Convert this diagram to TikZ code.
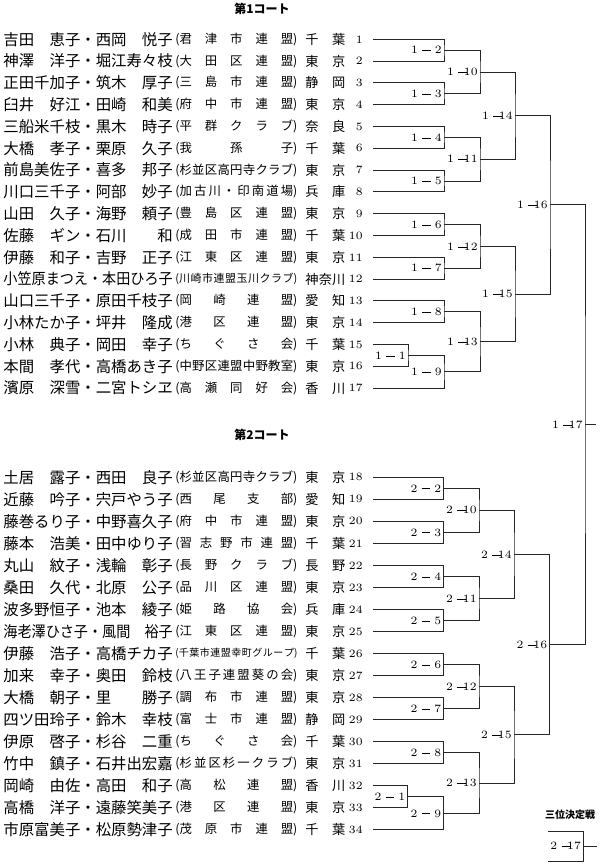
\documentclass[tikz,border=0pt]{standalone}
\usepackage{fontspec}
\usepackage{graphicx}
\usetikzlibrary{calc}
\newfontfamily\jp{Noto Sans CJK JP}
\makeatletter
\def\sprd#1{\sprd@i#1\@nil}
\def\sprd@i#1#2\@nil{#1\ifx\relax#2\relax\else\hfill\sprd@i#2\@nil\fi}
\makeatother
\newcommand\clb[2][6.2pt]{\makebox[61pt][l]{\fontsize{#1}{#1}\selectfont(\sprd{#2})}}
\newcommand\pfx[1]{\makebox[20pt][l]{\sprd{#1}}}
\newcommand\sq[1]{\scalebox{0.9167}[1]{#1}}
\newcommand\mlab[2]{#1\hspace{2.2pt}\rule[1.45pt]{4.2pt}{0.35pt}\makebox[5.4pt][r]{#2}}
\newcommand\prow[5]{%
  \node[nm] (n#1) at (3,#2) {#3};
  \node[cl] (c#1) at (175,#2) {#4};
  \node[pf] (p#1) at (305,#2) {\pfx{#5}};
  \node[no] (k#1) at (363,#2) {#1};
  \coordinate (r#1) at (373,#2);}
\newcommand\rowA[4]{\pgfmathsetmacro\yy{39.3+(#1-1)*21.8}\prow{#1}{\yy}{#2}{#3}{#4}}
\newcommand\rowB[4]{\pgfmathsetmacro\yy{477.3+(#1-18)*22.04}\prow{#1}{\yy}{#2}{#3}{#4}}
\newcommand\mt[6]{%
  \coordinate (#1h) at ($(#3)!0.5!(#4)$);
  \coordinate (#1) at (#2,0 |- #1h);
  \draw[ln] (#3) -| (#1) |- (#4);
  \node[lab] (l#1) at (#1) {\mlab{#5}{#6}};}
\begin{document}
\begin{tikzpicture}[x=0.5pt,y=-0.5pt,
  nm/.style={anchor=west,inner sep=0pt,font=\jp\fontsize{7.7pt}{8pt}\selectfont},
  cl/.style={anchor=west,inner sep=0pt,font=\jp\fontsize{6.2pt}{7pt}\selectfont},
  pf/.style={anchor=west,inner sep=0pt,font=\jp\fontsize{6.6pt}{7pt}\selectfont},
  no/.style={anchor=east,inner sep=0pt,font=\fontsize{5.6pt}{7pt}\selectfont},
  lab/.style={anchor=east,inner sep=0pt,xshift=-1pt,font=\fontsize{5.6pt}{7pt}\selectfont},
  hd/.style={inner sep=0pt,font=\jp\bfseries\fontsize{6pt}{7pt}\selectfont},
  ln/.style={line width=0.5pt,black!85}]
\useasboundingbox (0,0) rectangle (600,863);
\node[hd] (h1) at (262,9) {第1コート};
\node[hd] (h2) at (262,435) {第2コート};
\node[hd,font=\jp\bfseries\fontsize{5pt}{6pt}\selectfont] (h3) at (570,815) {三位決定戦};
% Court 1
\rowA{1}{吉田　恵子・西岡　悦子}{\clb{君津市連盟}}{千葉}
\rowA{2}{神澤　洋子・堀江寿々枝}{\clb{大田区連盟}}{東京}
\rowA{3}{正田千加子・筑木　厚子}{\clb{三島市連盟}}{静岡}
\rowA{4}{臼井　好江・田崎　和美}{\clb{府中市連盟}}{東京}
\rowA{5}{三船米千枝・黒木　時子}{\clb{平群クラブ}}{奈良}
\rowA{6}{大橋　孝子・栗原　久子}{\clb{我孫子}}{千葉}
\rowA{7}{前島美佐子・喜多　邦子}{\clb{杉並区高円寺クラブ}}{東京}
\rowA{8}{川口三千子・阿部　妙子}{\clb{加古川・印南道場}}{兵庫}
\rowA{9}{山田　久子・海野　頼子}{\clb{豊島区連盟}}{東京}
\rowA{10}{佐藤　ギン・石川　　和}{\clb{成田市連盟}}{千葉}
\rowA{11}{伊藤　和子・吉野　正子}{\clb{江東区連盟}}{東京}
\rowA{12}{\sq{小笠原まつえ・本田ひろ子}}{\clb[5.5pt]{川崎市連盟玉川クラブ}}{神奈川}
\rowA{13}{山口三千子・原田千枝子}{\clb{岡崎連盟}}{愛知}
\rowA{14}{小林たか子・坪井　隆成}{\clb{港区連盟}}{東京}
\rowA{15}{小林　典子・岡田　幸子}{\clb{ちぐさ会}}{千葉}
\rowA{16}{本間　孝代・高橋あき子}{\clb{中野区連盟中野教室}}{東京}
\rowA{17}{濱原　深雪・二宮トシヱ}{\clb{高瀬同好会}}{香川}
% Court 2
\rowB{18}{土居　露子・西田　良子}{\clb{杉並区高円寺クラブ}}{東京}
\rowB{19}{近藤　吟子・宍戸やう子}{\clb{西尾支部}}{愛知}
\rowB{20}{藤巻るり子・中野喜久子}{\clb{府中市連盟}}{東京}
\rowB{21}{藤本　浩美・田中ゆり子}{\clb{習志野市連盟}}{千葉}
\rowB{22}{丸山　紋子・浅輪　彰子}{\clb{長野クラブ}}{長野}
\rowB{23}{桑田　久代・北原　公子}{\clb{品川区連盟}}{東京}
\rowB{24}{波多野恒子・池本　綾子}{\clb{姫路協会}}{兵庫}
\rowB{25}{\sq{海老澤ひさ子・風間　裕子}}{\clb{江東区連盟}}{東京}
\rowB{26}{伊藤　浩子・高橋チカ子}{\clb[5pt]{千葉市連盟幸町グループ}}{千葉}
\rowB{27}{加来　幸子・奥田　鈴枝}{\clb{八王子連盟葵の会}}{東京}
\rowB{28}{大橋　朝子・里　　勝子}{\clb{調布市連盟}}{東京}
\rowB{29}{四ツ田玲子・鈴木　幸枝}{\clb{富士市連盟}}{静岡}
\rowB{30}{伊原　啓子・杉谷　二重}{\clb{ちぐさ会}}{千葉}
\rowB{31}{竹中　鎮子・石井出宏嘉}{\clb{杉並区杉一クラブ}}{東京}
\rowB{32}{岡崎　由佐・高田　和子}{\clb{高松連盟}}{香川}
\rowB{33}{高橋　洋子・遠藤笑美子}{\clb{港区連盟}}{東京}
\rowB{34}{市原富美子・松原勢津子}{\clb{茂原市連盟}}{千葉}
% Court 1 bracket
\mt{a1}{408}{r15}{r16}{1}{1}
\mt{a2}{444}{r1}{r2}{1}{2}
\mt{a3}{444}{r3}{r4}{1}{3}
\mt{a4}{444}{r5}{r6}{1}{4}
\mt{a5}{444}{r7}{r8}{1}{5}
\mt{a6}{444}{r9}{r10}{1}{6}
\mt{a7}{444}{r11}{r12}{1}{7}
\mt{a8}{444}{r13}{r14}{1}{8}
\mt{a9}{444}{a1}{r17}{1}{9}
\mt{a10}{480}{a2}{a3}{1}{10}
\mt{a11}{480}{a4}{a5}{1}{11}
\mt{a12}{480}{a6}{a7}{1}{12}
\mt{a13}{480}{a8}{a9}{1}{13}
\mt{a14}{515}{a10}{a11}{1}{14}
\mt{a15}{515}{a12}{a13}{1}{15}
\mt{a16}{550}{a14}{a15}{1}{16}
% Court 2 bracket
\mt{b1}{407.5}{r32}{r33}{2}{1}
\mt{b2}{443.5}{r18}{r19}{2}{2}
\mt{b3}{443.5}{r20}{r21}{2}{3}
\mt{b4}{443.5}{r22}{r23}{2}{4}
\mt{b5}{443.5}{r24}{r25}{2}{5}
\mt{b6}{443.5}{r26}{r27}{2}{6}
\mt{b7}{443.5}{r28}{r29}{2}{7}
\mt{b8}{443.5}{r30}{r31}{2}{8}
\mt{b9}{443.5}{b1}{r34}{2}{9}
\mt{b10}{479}{b2}{b3}{2}{10}
\mt{b11}{479}{b4}{b5}{2}{11}
\mt{b12}{479}{b6}{b7}{2}{12}
\mt{b13}{479}{b8}{b9}{2}{13}
\mt{b14}{514}{b10}{b11}{2}{14}
\mt{b15}{514}{b12}{b13}{2}{15}
\mt{b16}{549.5}{b14}{b15}{2}{16}
% Final
\mt{f1}{585}{a16}{b16}{1}{17}
\coordinate (fs) at (596,0 |- f1);
\draw[ln] (f1) -- (fs);
% Third place
\coordinate (t1) at (548,831);
\coordinate (t2) at (548,861.5);
\mt{tp}{583.3}{t1}{t2}{2}{17}
\coordinate (ts) at (597,0 |- tp);
\draw[ln] (tp) -- (ts);
\end{tikzpicture}
\end{document}
